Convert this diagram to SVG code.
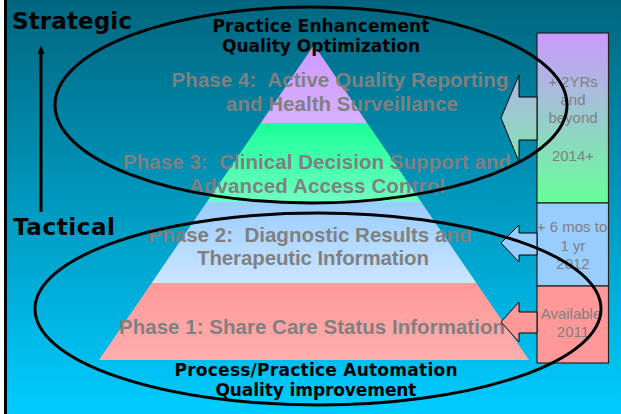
<svg xmlns="http://www.w3.org/2000/svg" width="621" height="414" viewBox="0 0 621 414">
<style>
.ph{font-family:"Liberation Sans",Arial,sans-serif;font-weight:bold;font-size:20.5px;fill:#808080;text-anchor:middle}
.bx{font-family:"Liberation Sans",Arial,sans-serif;font-size:15px;fill:#808080;text-anchor:middle}
.lb{font-family:"DejaVu Sans",Verdana,sans-serif;font-weight:bold;font-size:17px;fill:#000;text-anchor:middle}
.side{font-family:"DejaVu Sans",Verdana,sans-serif;font-weight:bold;font-size:23px;fill:#000}
.ell{fill:none;stroke:#000;stroke-width:3}
.box{stroke:#222;stroke-width:1.2}
.arr{stroke:#000;stroke-width:1}
</style>
<defs>
<linearGradient id="bg" x1="0" y1="0" x2="0" y2="1">
<stop offset="0" stop-color="#00667F"/>
<stop offset="1" stop-color="#00CCFF"/>
</linearGradient>
<linearGradient id="g4" x1="0" y1="45" x2="0" y2="123" gradientUnits="userSpaceOnUse">
<stop offset="0" stop-color="#CC99FF"/><stop offset="1" stop-color="#D8B0FF"/>
</linearGradient>
<linearGradient id="g3" x1="0" y1="123" x2="0" y2="202" gradientUnits="userSpaceOnUse">
<stop offset="0" stop-color="#19FF99"/><stop offset="1" stop-color="#70FFC0"/>
</linearGradient>
<linearGradient id="g2" x1="0" y1="202" x2="0" y2="283" gradientUnits="userSpaceOnUse">
<stop offset="0" stop-color="#99CCFF"/><stop offset="1" stop-color="#CCE6FF"/>
</linearGradient>
<linearGradient id="g1" x1="0" y1="283" x2="0" y2="360" gradientUnits="userSpaceOnUse">
<stop offset="0" stop-color="#FF9999"/><stop offset="1" stop-color="#FFAEAE"/>
</linearGradient>
<linearGradient id="gb" x1="0" y1="33" x2="0" y2="203" gradientUnits="userSpaceOnUse">
<stop offset="0" stop-color="#CC99FF"/><stop offset="1" stop-color="#66FF99"/>
</linearGradient>
<marker id="ah" markerWidth="9" markerHeight="10" refX="4" refY="5" orient="auto" markerUnits="userSpaceOnUse">
<path d="M0,1.5 L9,5 L0,8.5 Z" fill="#000"/>
</marker>
</defs>

<rect x="0" y="0" width="621" height="414" fill="url(#bg)"/>
<rect x="0" y="0" width="4" height="414" fill="#fff"/>
<rect x="4" y="0" width="3" height="414" fill="#000"/>

<g id="phase4">
<polygon points="314,45 367.2,123 260.8,123" fill="url(#g4)"/>
</g>
<g id="phase3">
<polygon points="260.8,123 367.2,123 421.2,202 206.8,202" fill="url(#g3)"/>
</g>
<g id="phase2">
<polygon points="206.8,202 421.2,202 476.4,283 151.6,283" fill="url(#g2)"/>
</g>
<g id="phase1">
<polygon points="151.6,283 476.4,283 529,360 99,360" fill="url(#g1)"/>
</g>

<g id="phase-texts">
<text class="ph" x="340" y="87" xml:space="preserve" textLength="337">Phase 4:  Active Quality Reporting</text>
<text class="ph" x="342" y="111" textLength="232">and Health Surveillance</text>
<text class="ph" x="317" y="169" xml:space="preserve" textLength="388">Phase 3:  Clinical Decision Support and</text>
<text class="ph" x="317" y="193" textLength="256">Advanced Access Control</text>
<text class="ph" x="310" y="242" xml:space="preserve" textLength="323">Phase 2:  Diagnostic Results and</text>
<text class="ph" x="313" y="265" textLength="232">Therapeutic Information</text>
<text class="ph" x="312" y="334" textLength="386">Phase 1: Share Care Status Information</text>
</g>

<g id="box-2014">
<rect class="box" x="537" y="33" width="71.5" height="170" fill="url(#gb)"/>
<polygon class="arr" points="537,97 519,97 519,75 501,118 519,162 519,140 537,140" fill="url(#gb)"/>
<text class="bx" x="573" y="87">+ 2YRs</text>
<text class="bx" x="573" y="105">and</text>
<text class="bx" x="573" y="123">beyond</text>
<text class="bx" x="573" y="161">2014+</text>
</g>
<g id="box-2012">
<rect class="box" x="537" y="203" width="71.5" height="83" fill="#99CCFF"/>
<polygon class="arr" points="537,233 519,233 519,225 501,243 519,262 519,255 537,255" fill="#99CCFF"/>
<text class="bx" x="572" y="232">+ 6 mos to</text>
<text class="bx" x="573" y="251">1 yr</text>
<text class="bx" x="573" y="269">2012</text>
</g>
<g id="box-2011">
<rect class="box" x="537" y="286" width="71.5" height="77" fill="#FF9999"/>
<polygon class="arr" points="537,312 519,312 519,302 501,322 519,342 519,333 537,333" fill="#FF9999"/>
<text class="bx" x="571" y="319">Available</text>
<text class="bx" x="573" y="337">2011</text>
</g>

<g id="ellipses">
<ellipse class="ell" cx="311" cy="105" rx="256" ry="98"/>
<ellipse class="ell" cx="318" cy="309" rx="283" ry="96"/>
</g>

<g id="labels">
<text class="lb" x="321" y="32" textLength="217">Practice Enhancement</text>
<text class="lb" x="321" y="52" textLength="198">Quality Optimization</text>
<text class="lb" x="316" y="376" textLength="283">Process/Practice Automation</text>
<text class="lb" x="316" y="396" textLength="201">Quality improvement</text>
<text class="side" x="12" y="29" textLength="120">Strategic</text>
<text class="side" x="13" y="235" textLength="102">Tactical</text>
</g>

<g id="connectors">
<line x1="41" y1="212" x2="41" y2="50" stroke="#000" stroke-width="3" marker-end="url(#ah)"/>
</g>
</svg>
